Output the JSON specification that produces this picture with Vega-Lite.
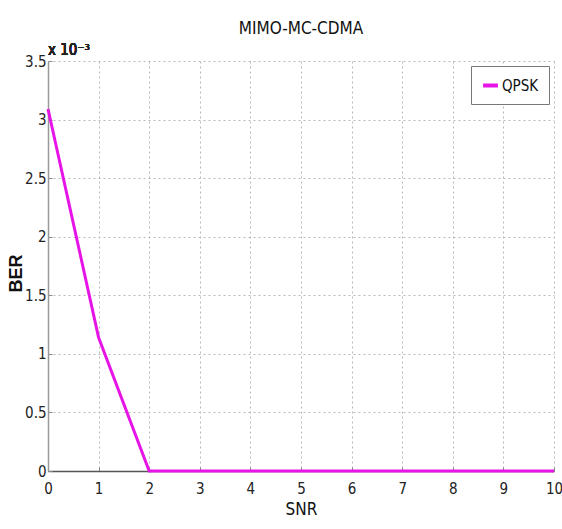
{
  "$schema": "https://vega.github.io/schema/vega-lite/v6.json",
  "autosize": {"type": "none"},
  "padding": {"left": 48, "top": 61, "right": 8, "bottom": 58},
  "width": 506,
  "height": 410,
  "background": "white",
  "config": {
    "view": {"stroke": null},
    "font": "DejaVu Sans Condensed, Liberation Sans",
    "axis": {
      "labelFont": "DejaVu Sans Condensed, Liberation Sans",
      "labelFontSize": 15,
      "labelColor": "#222",
      "titleFont": "DejaVu Sans Condensed, Liberation Sans",
      "titleColor": "#111",
      "gridColor": "#b8b8b8",
      "gridDash": [2, 3],
      "gridWidth": 1,
      "tickColor": "#888",
      "tickSize": -4
    }
  },
  "title": {
    "text": "MIMO-MC-CDMA",
    "font": "DejaVu Sans Condensed, Liberation Sans",
    "fontSize": 17,
    "fontWeight": "normal",
    "color": "#111",
    "offset": 5,
    "anchor": "middle"
  },
  "data": {
    "values": [
      {"SNR": 0, "BER": 0.00309, "mod": "QPSK"},
      {"SNR": 1, "BER": 0.00114, "mod": "QPSK"},
      {"SNR": 2, "BER": 0, "mod": "QPSK"},
      {"SNR": 3, "BER": 0, "mod": "QPSK"},
      {"SNR": 4, "BER": 0, "mod": "QPSK"},
      {"SNR": 5, "BER": 0, "mod": "QPSK"},
      {"SNR": 6, "BER": 0, "mod": "QPSK"},
      {"SNR": 7, "BER": 0, "mod": "QPSK"},
      {"SNR": 8, "BER": 0, "mod": "QPSK"},
      {"SNR": 9, "BER": 0, "mod": "QPSK"},
      {"SNR": 10, "BER": 0, "mod": "QPSK"}
    ]
  },
  "layer": [
    {
      "mark": {"type": "line", "strokeWidth": 3, "clip": false},
      "encoding": {
        "x": {
          "field": "SNR",
          "type": "quantitative",
          "scale": {"domain": [0, 10], "nice": false},
          "axis": {
            "values": [0, 1, 2, 3, 4, 5, 6, 7, 8, 9, 10],
            "title": "SNR",
            "titleFontSize": 17,
            "titleFontWeight": "normal",
            "titlePadding": 5,
            "labelPadding": 14,
            "domainColor": "#555",
            "domainWidth": 1.5,
            "labelFlush": false
          }
        },
        "y": {
          "field": "BER",
          "type": "quantitative",
          "scale": {"domain": [0, 0.0035], "nice": false},
          "axis": {
            "values": [0, 0.0005, 0.001, 0.0015, 0.002, 0.0025, 0.003, 0.0035],
            "labelExpr": "format(datum.value * 1000, '~g')",
            "title": "BER",
            "titleFont": "Liberation Sans",
            "titleFontSize": 18,
            "titleFontWeight": "bold",
            "titleX": -32,
            "titleY": 212,
            "titleAlign": "center",
            "titleBaseline": "middle",
            "titleAngle": 270,
            "labelPadding": 6,
            "domainColor": "#999",
            "domainWidth": 1.5,
            "labelFlush": false
          }
        },
        "color": {
          "field": "mod",
          "type": "nominal",
          "scale": {"range": ["#e614e6"]},
          "legend": {
            "title": null,
            "orient": "top-right",
            "offset": 5,
            "symbolType": "stroke",
            "symbolStrokeWidth": 4,
            "symbolSize": 220,
            "labelFont": "DejaVu Sans Condensed, Liberation Sans",
            "labelFontSize": 15,
            "labelColor": "#111",
            "labelOffset": 2,
            "padding": 10,
            "strokeColor": "#777",
            "fillColor": "white"
          }
        }
      }
    },
    {
      "mark": {"type": "text", "align": "left", "baseline": "bottom", "dx": 0, "dy": -3, "font": "DejaVu Sans Condensed, Liberation Sans", "fontSize": 15, "color": "#222"},
      "encoding": {
        "x": {"datum": 0},
        "y": {"datum": 0.0035},
        "text": {"value": "x 10⁻³"}
      }
    }
  ]
}
